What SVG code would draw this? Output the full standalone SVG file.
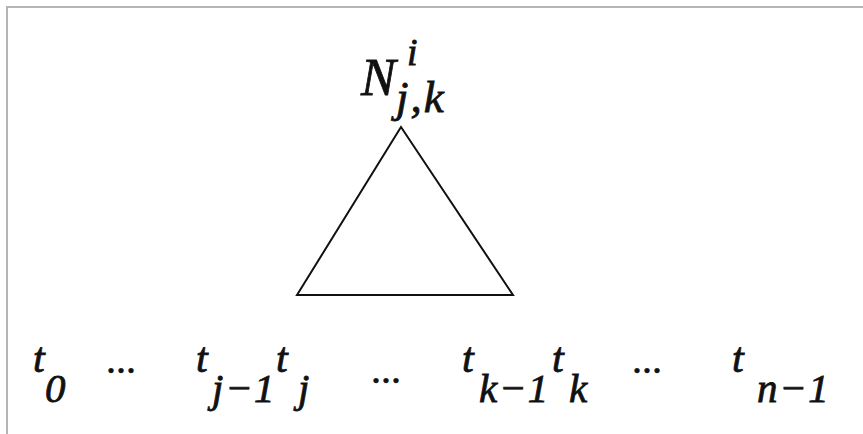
<svg xmlns="http://www.w3.org/2000/svg" width="863" height="434" viewBox="0 0 863 434">
<style>
.m{font-family:"Liberation Serif","Times New Roman",serif;font-style:italic;fill:#111;stroke:#111;stroke-width:0.8}
.b{font-size:42px}
.s{font-size:41px;letter-spacing:1.5px}
.d{font-family:"Liberation Serif",serif;font-size:40px;fill:#111;stroke:#111;stroke-width:0.6}
</style>
<rect width="863" height="434" fill="#fff"/>
<path d="M7 434V7H863" fill="none" stroke="#b4b4b4" stroke-width="2"/>
<g id="root-label">
<text class="m" x="361" y="95" font-size="52">N</text>
<text class="m" x="407" y="65" font-size="38">i</text>
<text class="m" x="396" y="112" font-size="45" letter-spacing="2">j,k</text>
</g>
<g id="subtree">
<polygon points="401,127 297,295 513,295" fill="none" stroke="#111" stroke-width="2"/>
</g>
<g id="leaves">
<text class="m b" x="33" y="372">t</text><text class="m s" x="45" y="402">0</text>
<text class="d" x="106" y="373">...</text>
<text class="m b" x="196" y="372">t</text><text class="m s" x="212" y="402">j−1</text>
<text class="m b" x="276" y="372">t</text><text class="m s" x="298" y="402">j</text>
<text class="d" x="371" y="383">...</text>
<text class="m b" x="462" y="372">t</text><text class="m s" x="479" y="402">k−1</text>
<text class="m b" x="552" y="372">t</text><text class="m s" x="569" y="402">k</text>
<text class="d" x="632" y="373">...</text>
<text class="m b" x="732" y="372">t</text><text class="m s" x="757" y="402">n−1</text>
</g>
<g id="connectors"/>
</svg>
